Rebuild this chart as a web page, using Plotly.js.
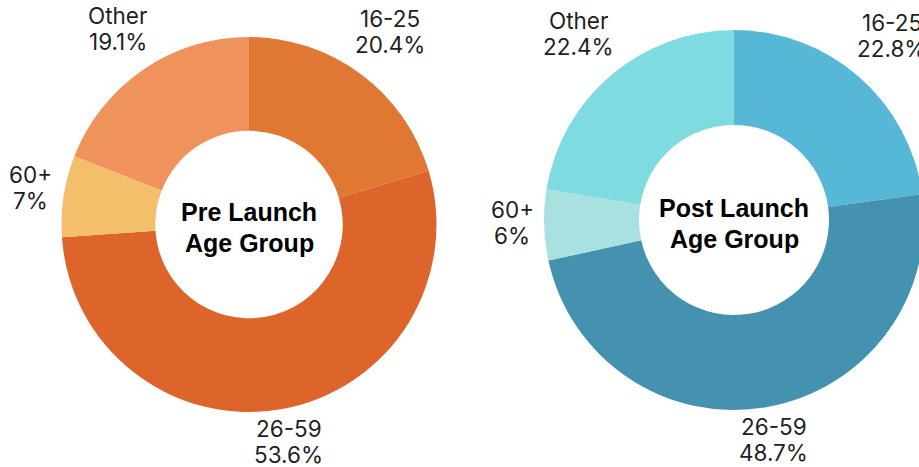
<!DOCTYPE html>
<html><head><meta charset="utf-8">
<script src="https://cdn.plot.ly/plotly-3.0.1.min.js"></script>
<style>html,body{margin:0;padding:0;overflow:hidden;background:#fff;width:919px;height:467px}</style>
</head><body><div id="chart"></div>
<script>
const categories = ["16-25", "26-59", "60+", "Other"];
const preValues = [20.4, 53.6, 7, 19.1];
const postValues = [22.8, 48.7, 6, 22.4];
const preColors = ["#E07833", "#DD652B", "#F4BF6A", "#EF925C"];
const postColors = ["#56B7D6", "#4492AF", "#A9E0E0", "#7EDCE1"];
const preTitle = ["Pre Launch", "Age Group"];
const postTitle = ["Post Launch", "Age Group"];

const W = 1000, H = 467;
// pie boxes in pixels: [left, right, top, bottom]
const preBox = [49, 449, 37, 412];
const postBox = [534, 934, 30, 410];

const labelFamily = "Inter, 'Noto Sans', sans-serif";
const labelSize = 22.5;
const labelFont = {family: labelFamily, size: labelSize, color: "#1f1f1f"};
const centerFont = {family: "'Liberation Sans', Arial, sans-serif", size: 25, color: "#000"};

const ctx = document.createElement("canvas").getContext("2d");
ctx.font = labelSize + "px Inter";
function textW(s) { return ctx.measureText(s).width; }

function dom(b) {
  return {x: [b[0] / W, b[1] / W], y: [1 - b[3] / H, 1 - b[2] / H]};
}
function pie(values, colors, box) {
  return {
    type: "pie", labels: categories, values: values, sort: false,
    direction: "clockwise", rotation: 0, hole: 0.5,
    marker: {colors: colors, line: {width: 0}},
    textinfo: "none", hoverinfo: "label+value", showlegend: false,
    automargin: false, domain: dom(box)
  };
}
function ann(text, px, py, font, h) {
  const a = {text: text, x: px / W, y: 1 - py / H, xref: "paper", yref: "paper",
    showarrow: false, font: font, xanchor: "center", yanchor: "middle"};
  if (h) a.height = h;
  return a;
}
// nearest distance from origin to an axis-aligned box centred at (x,y)
function nearDist(x, y, hw, hh) {
  const nx = Math.max(Math.abs(x) - hw, 0), ny = Math.max(Math.abs(y) - hh, 0);
  return Math.hypot(nx, ny);
}
function labelAnns(values, box) {
  const cx = (box[0] + box[1]) / 2, cy = (box[2] + box[3]) / 2;
  const r = Math.min(box[1] - box[0], box[3] - box[2]) / 2;
  const total = values.reduce((a, b) => a + b, 0);
  const gap = 10, capH = 16, lineGap = 26, desc = 4;
  const hh = (capH + lineGap + desc) / 2;
  let cum = 0;
  const out = [];
  values.forEach((v, i) => {
    const th = 2 * Math.PI * (cum + v / 2) / total;
    cum += v;
    const ux = Math.sin(th), uy = -Math.cos(th);
    const t1 = categories[i], t2 = v + "%";
    const hw = Math.max(textW(t1), textW(t2)) / 2;
    let lo = 0, hi = 600;
    for (let k = 0; k < 60; k++) {
      const mid = (lo + hi) / 2;
      if (nearDist(mid * ux, mid * uy, hw, hh) < r + gap) lo = mid; else hi = mid;
    }
    const px = cx + lo * ux, py = cy + lo * uy - 2;
    const top = py - hh;
    out.push(ann(t1, px, top + capH / 2, labelFont, 22));
    out.push(ann(t2, px, top + capH / 2 + lineGap, labelFont, 22));
  });
  return out;
}
function centerAnns(lines, box, dy) {
  const cx = (box[0] + box[1]) / 2, cy = (box[2] + box[3]) / 2 + dy;
  return [ann("<b>" + lines[0] + "</b>", cx, cy - 15.5, centerFont),
          ann("<b>" + lines[1] + "</b>", cx, cy + 15.5, centerFont)];
}

const data = [pie(preValues, preColors, preBox), pie(postValues, postColors, postBox)];
const layout = {
  width: W, height: H, margin: {l: 0, r: 0, t: 0, b: 0},
  paper_bgcolor: "#fff", showlegend: false,
  annotations: [].concat(
    labelAnns(preValues, preBox), labelAnns(postValues, postBox),
    centerAnns(preTitle, preBox, 3), centerAnns(postTitle, postBox, 3)
  )
};
Plotly.newPlot("chart", data, layout, {displayModeBar: false, staticPlot: true});
</script></body></html>
